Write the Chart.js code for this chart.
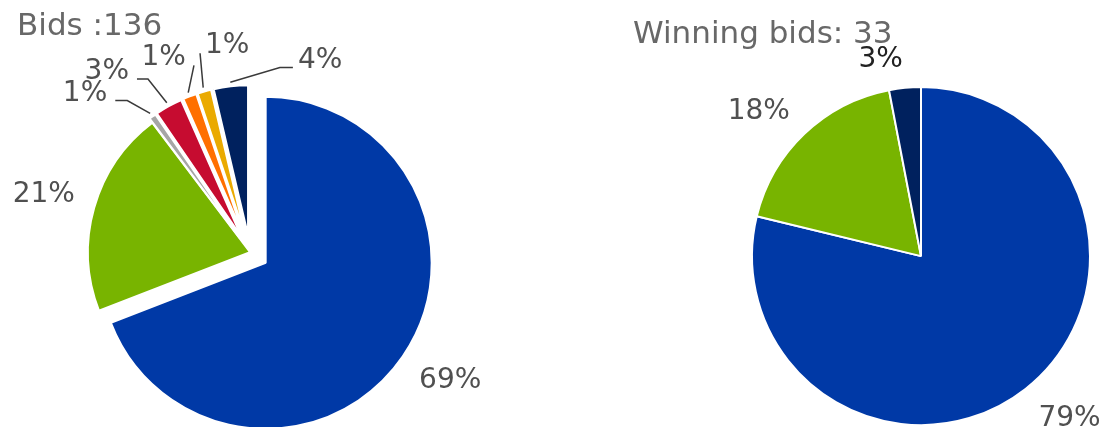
<!DOCTYPE html>
<html>
<head>
<meta charset="utf-8">
<script src="https://cdn.jsdelivr.net/npm/chart.js@4/dist/chart.umd.min.js"></script>
<style>
  html, body { margin: 0; padding: 0; background: #fff; overflow: hidden; width: 1113px; height: 427px; }
  canvas { position: absolute; top: 0; }
  #bids { left: 0; }
  #wins { left: 600px; }
</style>
</head>
<body>
<canvas id="bids" width="540" height="490"></canvas>
<canvas id="wins" width="640" height="490"></canvas>
<script>
// bid counts per category (136 in total) and winning bids (33 in total)
const categories = ['A', 'B', 'C', 'D', 'E', 'F', 'G'];
const bidCounts = [94, 28, 1, 4, 2, 2, 5];
const winCategories = ['A', 'B', 'G'];
const winCounts = [26, 6, 1];

const bidColors = ['#0039a6', '#78b400', '#a6a6a6', '#c60c30', '#ff7000', '#eaaa00', '#00215e'];
const winColors = ['#0039a6', '#78b400', '#00215e'];

Chart.defaults.font.family = "'DejaVu Sans', Verdana, sans-serif";
Chart.defaults.animation = false;

// pulls slices out along their middle angle, and lets some slices be smaller
const explode = {
  id: 'explode',
  afterDatasetsUpdate(chart, args, opts) {
    const arcs = chart.getDatasetMeta(0).data;
    arcs.forEach((arc, i) => {
      const d = (opts.shift && opts.shift[i]) || 0;
      const mid = (arc.startAngle + arc.endAngle) / 2;
      arc.x += Math.cos(mid) * d;
      arc.y += Math.sin(mid) * d;
      if (opts.radius && opts.radius[i]) arc.outerRadius = opts.radius[i];
    });
  }
};

// percentage labels, with leader lines for the thin slices
const pieLabels = {
  id: 'pieLabels',
  afterDatasetsDraw(chart, args, opts) {
    const meta = chart.getDatasetMeta(0);
    const values = chart.data.datasets[0].data;
    const total = values.reduce((a, b) => a + b, 0);
    const area = chart.chartArea;
    const cx = (area.left + area.right) / 2;
    const cy = (area.top + area.bottom) / 2;
    const ctx = chart.ctx;
    const capH = opts.size * 0.73;
    ctx.save();
    ctx.font = opts.size + "px 'DejaVu Sans'";
    ctx.lineWidth = 1.5;
    ctx.strokeStyle = '#3a3a3a';
    ctx.textBaseline = 'alphabetic';
    meta.data.forEach((arc, i) => {
      const txt = Math.round(values[i] / total * 100) + '%';
      const mid = (arc.startAngle + arc.endAngle) / 2;
      const r = arc.outerRadius;
      ctx.fillStyle = (opts.colors && opts.colors[i]) || opts.color;
      const c = opts.callouts && opts.callouts[i];
      if (c) {
        const a = (c.angle - 90) * Math.PI / 180;
        const ex = cx + Math.cos(a) * c.dist;
        const ey = cy + Math.sin(a) * c.dist;
        const sx = arc.x + Math.cos(mid) * (r + 4);
        const sy = arc.y + Math.sin(mid) * (r + 4);
        const tx = ex + c.tail;
        ctx.beginPath();
        ctx.moveTo(sx, sy);
        ctx.lineTo(ex, ey);
        ctx.lineTo(tx, ey);
        ctx.stroke();
        ctx.textAlign = c.right ? 'left' : 'right';
        ctx.fillText(txt, tx + (c.right ? 5 : -8), ey);
      } else {
        const R = r + opts.gap;
        const x = arc.x + Math.cos(mid) * R;
        const y = arc.y + Math.sin(mid) * R;
        ctx.textAlign = Math.cos(mid) >= 0 ? 'left' : 'right';
        ctx.fillText(txt, x, Math.sin(mid) > 0 ? y + capH : y);
      }
    });
    ctx.restore();
  }
};

new Chart(document.getElementById('bids'), {
  type: 'pie',
  data: {
    labels: categories,
    datasets: [{
      data: bidCounts,
      backgroundColor: bidColors,
      borderColor: '#fff',
      borderWidth: 2,
      radius: 162
    }]
  },
  options: {
    responsive: false,
    layout: { padding: { left: 17, right: 57, top: 0, bottom: 31 } },
    plugins: {
      legend: { display: false },
      tooltip: { enabled: false },
      title: {
        display: true,
        text: 'Bids :136',
        align: 'start',
        color: '#686868',
        font: { size: 31, weight: 'normal' },
        padding: { top: 8, bottom: 0 }
      },
      explode: {
        shift: [19, 0, 17, 17, 17, 17, 17],
        radius: [166, 162, 150, 150, 150, 150, 150]
      },
      pieLabels: {
        size: 28,
        color: '#505050',
        gap: 20,
        callouts: {
          2: { angle: 321, dist: 195, tail: -12 },
          3: { angle: 329.5, dist: 201, tail: -11 },
          4: { angle: 343.3, dist: 195, tail: 0 },
          5: { angle: 345.9, dist: 205, tail: 0, right: true },
          6: { angle: 9.2, dist: 187, tail: 13, right: true }
        }
      }
    }
  },
  plugins: [explode, pieLabels]
});

new Chart(document.getElementById('wins'), {
  type: 'pie',
  data: {
    labels: winCategories,
    datasets: [{
      data: winCounts,
      backgroundColor: winColors,
      borderColor: '#fff',
      borderWidth: 2,
      radius: 169
    }]
  },
  options: {
    responsive: false,
    layout: { padding: { left: 33, right: 31, top: 0, bottom: 31 } },
    plugins: {
      legend: { display: false },
      tooltip: { enabled: false },
      title: {
        display: true,
        text: 'Winning bids: 33',
        align: 'start',
        color: '#686868',
        font: { size: 31, weight: 'normal' },
        padding: { top: 16, bottom: 0 }
      },
      pieLabels: {
        size: 28,
        color: '#505050',
        colors: { 2: '#222' },
        gap: 21
      }
    }
  },
  plugins: [pieLabels]
});
</script>
</body>
</html>
